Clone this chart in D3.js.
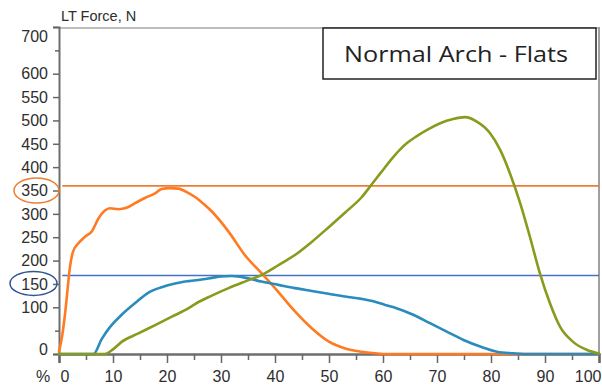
<!DOCTYPE html>
<html><head><meta charset="utf-8">
<script src="https://cdn.jsdelivr.net/npm/d3@7"></script>
<style>
html,body{margin:0;padding:0;background:#fff;}
svg{display:block;font-family:"Liberation Sans",Arial,sans-serif;}
</style></head>
<body><svg id="chart" width="602" height="385"></svg>
<script>
// ---- data ----
const orangePct = [0,0.6,1.1,1.6,2,2.6,3.6,4.8,6.1,7.3,8.5,9.4,11,12.5,14.1,15.9,17.8,19,20.5,22.1,23.9,25.2,26.7,28.3,31.4,34.4,37.5,40.6,43.7,46.8,49.9,53,56,58.5,60,100];
const orangeVal = [5,40,84,140,184,219,237,251,263,290,307,312,310,313,323,334,344,353,355,354,345,336,322,305,262,212,173,133,91,55,27,12,5,1.5,0,0];
const bluePct = [0,6.4,7.9,9.4,11.6,14.1,16.5,19,21.5,24,26.7,28.3,30,32,35,37.5,40.6,43.7,46.8,49.9,53,56,58.5,60.4,62.5,65.6,68.7,71.8,74.9,78,81.1,84.1,86,100];
const blueVal = [0,0,32,57,84,109,131,143,151,156,160,163,166,167,162,155,148,141,135,129,123,118,112,105,98,84,66,48,30,16,5,1.5,0,0];
const greenPct = [0,8.5,10,11.6,14.7,17.8,20.9,24,25.2,28.3,31.4,34.4,37.5,40.6,43.7,46.8,49.9,53,56,58.5,60,61.5,63.1,64.5,66.2,68.5,70.6,73,75.2,77.3,79.8,81.7,83.5,85.4,87.2,89.1,90.9,92.8,95.2,97.7,100];
const greenVal = [0,0,10,26,44,62,80,98,107,125,141,155,169,190,212,240,271,303,335,372,394,416,437,452,466,482,494,503,507,498,473,437,387,323,251,171,109,58,26,9,1];
const refLineValues = [360, 168];
const xTickValues = [0,10,20,30,40,50,60,70,80,90,100];
const xMinorTicks = [5,15,25,35,45,55,65,75,85,95];
const yTickValues = [0,100,150,200,250,300,350,400,450,500,550,600,700];
const yMinorTicks = [50,650];
const yTitle = "LT Force, N";
const xUnit = "%";
const boxTitle = "Normal Arch - Flats";

// ---- layout ----
const svg = d3.select("#chart");
const L = 59, R = 599, T = 27, B = 354;
const x = d3.scaleLinear().domain([0,100]).range([L,R]);
const y = d3.scaleLinear().domain([0,700]).range([B,T]);
const txt = "#2e2e2e";

// frame (top & right)
svg.append("line").attr("x1",L).attr("x2",R).attr("y1",T+1).attr("y2",T+1).attr("stroke","#a6a6a6").attr("stroke-width",1.5);
svg.append("line").attr("x1",R).attr("x2",R).attr("y1",T).attr("y2",B).attr("stroke","#a0a0a0").attr("stroke-width",2);

// y axis
const yAxis = svg.append("g").attr("transform",`translate(${L},0)`)
  .call(d3.axisLeft(y).tickValues(yTickValues).tickSize(6).tickPadding(5).tickFormat(d3.format("d")));
yAxis.select(".domain").attr("stroke","#6e6e6e").attr("stroke-width",2);
yAxis.selectAll(".tick line").attr("stroke","#666").attr("stroke-width",1.5);
yAxis.selectAll(".tick text").attr("fill",txt).style("font-size","16px")
  .attr("dy", d => d===700 ? "0.9em" : (d===0 ? "0.05em" : "0.33em"));
svg.append("g").attr("transform",`translate(${L},0)`)
  .call(d3.axisLeft(y).tickValues(yMinorTicks).tickSize(4).tickFormat(""))
  .call(g=>{g.select(".domain").remove(); g.selectAll("line").attr("stroke","#666").attr("stroke-width",1.5);});

// x axis
const xAxis = svg.append("g").attr("transform",`translate(0,${B})`)
  .call(d3.axisBottom(x).tickValues(xTickValues).tickSize(9).tickPadding(8).tickFormat(d3.format("d")));
xAxis.select(".domain").attr("stroke","#6e6e6e").attr("stroke-width",2.5);
xAxis.selectAll(".tick line").attr("stroke","#666").attr("stroke-width",1.5);
xAxis.selectAll(".tick text").attr("fill",txt).style("font-size","16px")
  .attr("text-anchor", d => d===0 ? "start" : (d===100 ? "end" : "middle"))
  .attr("dx", d => d===0 ? 1 : (d===100 ? 2 : 0));
svg.append("g").attr("transform",`translate(0,${B})`)
  .call(d3.axisBottom(x).tickValues(xMinorTicks).tickSize(6).tickFormat(""))
  .call(g=>{g.select(".domain").remove(); g.selectAll("line").attr("stroke","#666").attr("stroke-width",1.5);});

svg.append("text").attr("x",43).attr("y",382).attr("text-anchor","middle").attr("fill",txt).style("font-size","16px").text(xUnit);
svg.append("text").attr("x",61).attr("y",21).attr("fill",txt).style("font-size","14.5px").text(yTitle);

// reference lines
const refColors = ["#f07b35","#4472c4"];
refLineValues.forEach((v,i)=>{
  svg.append("line").attr("x1",x(0.6)).attr("x2",R).attr("y1",y(v)).attr("y2",y(v))
    .attr("stroke",refColors[i]).attr("stroke-width",1.6);
});

// highlight ellipses around axis labels
svg.append("ellipse").attr("cx",36.5).attr("cy",y(350)).attr("rx",22.5).attr("ry",12.5)
  .attr("fill","none").attr("stroke","#ed7d31").attr("stroke-width",1.5);
svg.append("ellipse").attr("cx",33.5).attr("cy",y(150)-0.5).attr("rx",23.5).attr("ry",12)
  .attr("fill","none").attr("stroke","#2f5597").attr("stroke-width",1.5);

// series
const line = d3.line().x(d=>x(d[0])).y(d=>y(d[1])).curve(d3.curveMonotoneX);
const series = [
  {pct:orangePct, val:orangeVal, color:"#ff7a21"},
  {pct:bluePct, val:blueVal, color:"#2a8bbd"},
  {pct:greenPct, val:greenVal, color:"#8a9a1c"}
];
series.forEach(s=>{
  svg.append("path").datum(s.pct.map((p,i)=>[p,s.val[i]]))
    .attr("d",line).attr("fill","none").attr("stroke",s.color)
    .attr("stroke-width",2.6).attr("stroke-linejoin","round").attr("stroke-linecap","round");
});

// title box
svg.append("rect").attr("x",323).attr("y",28).attr("width",273).attr("height",51)
  .attr("fill","#fff").attr("stroke","#222").attr("stroke-width",1.5);
svg.append("text").attr("x",456).attr("y",62).attr("text-anchor","middle")
  .attr("fill","#222").style("font-family","'Open Sans','Noto Sans',sans-serif").style("font-size","22px")
  .attr("textLength",224).attr("lengthAdjust","spacingAndGlyphs").text(boxTitle);
</script></body></html>
